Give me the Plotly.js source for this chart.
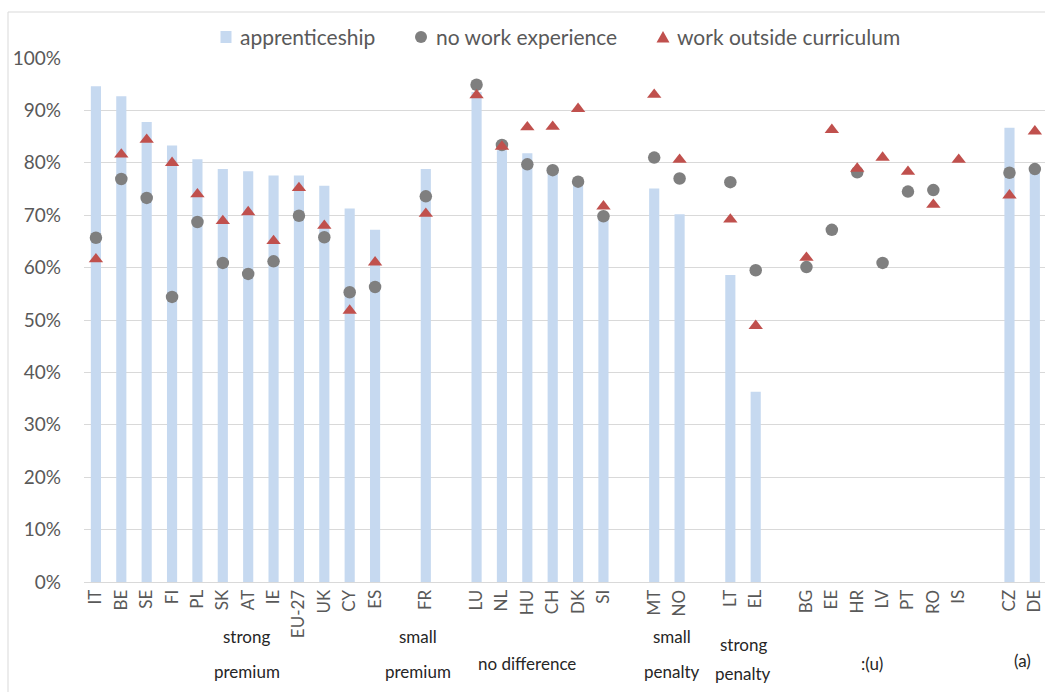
<!DOCTYPE html>
<html>
<head>
<meta charset="utf-8">
<script src="https://cdn.plot.ly/plotly-3.0.1.min.js"></script>
<style>
  html, body { margin: 0; padding: 0; background: #fff; }
  #chart { width: 1045px; height: 692px; }
</style>
</head>
<body>
<div id="chart"></div>
<script>
// Country categories ("" = empty slot between groups)
const categories = ["IT","BE","SE","FI","PL","SK","AT","IE","EU-27","UK","CY","ES","",
  "FR","",
  "LU","NL","HU","CH","DK","SI","",
  "MT","NO","",
  "LT","EL","",
  "BG","EE","HR","LV","PT","RO","IS","",
  "CZ","DE"];

// Series names
const seriesNames = ["apprenticeship", "no work experience", "work outside curriculum"];

// Series values (%)
const apprenticeship = [94.6,92.7,87.8,83.3,80.7,78.8,78.4,77.6,77.6,75.6,71.3,67.2,null,
  78.8,null,
  93.5,82.4,81.8,78.6,76.5,69.8,null,
  75.1,70.2,null,
  58.6,36.3,null,
  null,null,null,null,null,null,null,null,
  86.7,78.7];
const noWorkExperience = [65.7,76.9,73.3,54.4,68.7,60.9,58.8,61.2,69.9,65.8,55.3,56.3,null,
  73.6,null,
  94.9,83.4,79.7,78.6,76.4,69.8,null,
  81.0,77.0,null,
  76.3,59.5,null,
  60.1,67.2,78.2,60.9,74.5,74.8,null,null,
  78.1,78.8];
const workOutsideCurriculum = [61.6,81.6,84.4,80.0,74.0,68.9,70.6,65.1,75.2,68.0,51.8,61.0,null,
  70.3,null,
  92.9,83.1,86.8,86.9,90.3,71.7,null,
  93.0,80.6,null,
  69.2,48.9,null,
  61.9,86.3,78.9,81.0,78.3,72.0,80.6,null,
  73.8,86.0];

// Group labels (text lines) and the categories they span
const groupNames = [["strong","premium"],["small","premium"],["no difference"],["small","penalty"],["strong","penalty"],[":(u)"],["(a)"]];
const groupFirst = ["IT","FR","LU","MT","LT","BG","CZ"];
const groupLast  = ["ES","FR","SI","NO","EL","IS","DE"];

const COLORS = { bar: "#c6d9f0", circle: "#7f7f7f", tri: "#c0504d" };
const FONT = "Lato, 'Open Sans', sans-serif";

const xIdx = categories.map((c, i) => i);
const tickVals = xIdx.filter(i => categories[i] !== "");
const tickText = tickVals.map(i => categories[i]);

const traces = [
  { type: "bar", name: seriesNames[0], x: xIdx, y: apprenticeship,
    marker: { color: COLORS.bar }, width: 0.4 },
  { type: "scatter", mode: "markers", name: seriesNames[1], x: xIdx, y: noWorkExperience,
    marker: { symbol: "circle", size: 12.5, color: COLORS.circle } },
  { type: "scatter", mode: "markers", name: seriesNames[2], x: xIdx, y: workOutsideCurriculum,
    marker: { symbol: "triangle-up", size: 12.5, color: COLORS.tri } }
];

// plot-area geometry (pixels) for paper conversions
const M = { l: 84, r: 0, t: 58, b: 110 }, W = 1045, H = 692;
const PW = W - M.l - M.r, PH = H - M.t - M.b;
const px = v => (v - M.l) / PW;
const py = v => (H - M.b - v) / PH;

// group label annotations
const annotations = [];
const groupShift = [0.45, -0.3, -0.5, 0.2, 0, -0.4, 0];
const lineY = {2: [-0.104, -0.171], 1: [-0.156]};
groupNames.forEach((lines, g) => {
  const a = categories.indexOf(groupFirst[g]);
  const b = categories.indexOf(groupLast[g]);
  const cx = (a + b) / 2 + groupShift[g];
  const ys = lines.length === 2 ? (groupFirst[g] === "LT" ? [-0.12, -0.175] : lineY[2]) : (groupFirst[g] === "CZ" ? [-0.149] : lineY[1]);
  lines.forEach((t, k) => {
    annotations.push({ x: cx, y: ys[k], xref: "x", yref: "paper", text: t, showarrow: false,
      xanchor: "center", yanchor: "middle", font: { family: FONT, size: 17, color: "#262626" } });
  });
});

// custom legend (symbol centre x, text left x, in pixels)
const legY = 37;
const legSym = [226, 421, 663];
const legTxt = [238, 434, 675];
seriesNames.forEach((n, i) => {
  annotations.push({ x: px(legTxt[i]), y: py(legY), xref: "paper", yref: "paper", text: n,
    showarrow: false, xanchor: "left", yanchor: "middle",
    font: { family: FONT, size: 21, color: "#595959" } });
});
const shapes = [
  { type: "rect", xref: "paper", yref: "paper", x0: px(legSym[0] - 5.5), x1: px(legSym[0] + 5.5),
    y0: py(legY + 6), y1: py(legY - 6), line: { width: 0 }, fillcolor: COLORS.bar },
  { type: "circle", xref: "paper", yref: "paper", x0: px(legSym[1] - 6), x1: px(legSym[1] + 6),
    y0: py(legY + 6), y1: py(legY - 6), line: { width: 0 }, fillcolor: COLORS.circle },
  { type: "path", xref: "paper", yref: "paper",
    path: `M ${px(legSym[2] - 6.5)} ${py(legY + 5.5)} L ${px(legSym[2] + 6.5)} ${py(legY + 5.5)} L ${px(legSym[2])} ${py(legY - 6)} Z`,
    line: { width: 0 }, fillcolor: COLORS.tri },
  // chart frame (left and top edges)
  { type: "line", xref: "paper", yref: "paper", x0: px(8), x1: px(8), y0: py(H), y1: py(12),
    line: { color: "#d9d9d9", width: 1 } },
  { type: "line", xref: "paper", yref: "paper", x0: px(8), x1: px(W), y0: py(12), y1: py(12),
    line: { color: "#d9d9d9", width: 1 } }
];

const layout = {
  width: W, height: H,
  margin: M,
  paper_bgcolor: "#ffffff", plot_bgcolor: "#ffffff",
  font: { family: FONT, color: "#595959" },
  showlegend: false,
  xaxis: { range: [-0.47, 37.4], tickvals: tickVals, ticktext: tickText, tickangle: -90,
    showgrid: false, zeroline: false, showline: true, linecolor: "#d9d9d9", linewidth: 1,
    ticks: "", tickfont: { size: 17, color: "#595959" }, fixedrange: true },
  yaxis: { range: [0, 100], dtick: 10, ticksuffix: "%", showgrid: true, gridcolor: "#d9d9d9",
    gridwidth: 1, zeroline: false, showline: false, ticks: "", tickfont: { size: 19, color: "#595959" },
    ticklabelstandoff: 22 },
  annotations: annotations,
  shapes: shapes
};

Plotly.newPlot("chart", traces, layout, { displayModeBar: false, staticPlot: true });
</script>
</body>
</html>
